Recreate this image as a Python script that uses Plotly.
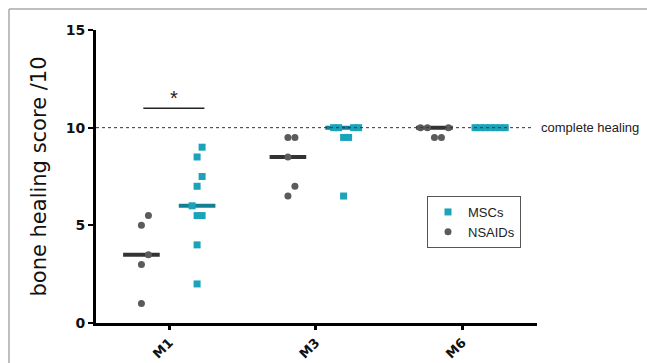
import numpy as np
import plotly.graph_objects as go

# ---- data ----
timepoints = ["M1", "M3", "M6"]
nsaids = {
    "M1": [5.5, 5.0, 3.5, 3.0, 1.0],
    "M3": [9.5, 9.5, 8.5, 7.0, 6.5],
    "M6": [10, 10, 10, 9.5, 9.5],
}
mscs = {
    "M1": [9.0, 8.5, 7.5, 7.0, 6.0, 5.5, 5.5, 4.0, 2.0],
    "M3": [10, 10, 10, 10, 9.5, 9.5, 6.5],
    "M6": [10, 10, 10, 10, 10, 10, 10],
}
complete_healing = 10
sig_level = 11
y_ticks = [0, 5, 10, 15]

# ---- layout geometry (pixels) ----
W, H = 647, 363
L, R, T, B = 96, 110, 30, 40
plot_w, plot_h = W - L - R, H - T - B
x_range = [-0.5, 2.51]
y_range = [0, 15]
px_per_x = plot_w / (x_range[1] - x_range[0])
px_per_y = plot_h / (y_range[1] - y_range[0])

TEAL = "#1ba3ba"
TEAL_DARK = "#147f94"
GRAY = "#5b5b5b"
DARK = "#333333"
FONT = "Liberation Sans, Arial, sans-serif"
WIDE = "DejaVu Sans, sans-serif"


def swarm(values, step_px, ythr_px=10):
    """Greedy beeswarm: returns x offsets (in data units) for each value."""
    order = np.argsort(values, kind="stable")
    placed = []
    offs = [0.0] * len(values)
    for i in order:
        ypx = values[i] * px_per_y
        k = 0
        while True:
            cand = 0 if k == 0 else ((k + 1) // 2) * step_px * (1 if k % 2 else -1)
            ok = all(not (abs(ypx - py) < ythr_px and abs(cand - px) < step_px - 1e-6)
                     for px, py in placed)
            if ok:
                break
            k += 1
        placed.append((cand, ypx))
        offs[i] = cand / px_per_x
    return offs


group_shift = 0.19
half_med = 0.125

fig = go.Figure()


def add_group(data, shift, color, med_color, symbol, name, step_px):
    xs, ys, mx, my = [], [], [], []
    for ci, tp in enumerate(timepoints):
        vals = data[tp]
        offs = swarm(vals, step_px)
        c = ci + shift
        xs += [c + o for o in offs]
        ys += list(vals)
        m = float(np.median(vals))
        mx += [c - half_med, c + half_med, None]
        my += [m, m, None]
    fig.add_trace(go.Scatter(x=mx, y=my, mode="lines", showlegend=False,
                             line=dict(color=med_color, width=4), hoverinfo="skip"))
    return go.Scatter(x=xs, y=ys, mode="markers", name=name,
                      marker=dict(symbol=symbol, size=7, color=color, line=dict(width=0)))


msc_tr = add_group(mscs, group_shift, TEAL, TEAL_DARK, "square", "MSCs", 5)
nsa_tr = add_group(nsaids, -group_shift, GRAY, DARK, "circle", "NSAIDs", 7)
fig.add_trace(msc_tr)
fig.add_trace(nsa_tr)

# complete healing dotted line
fig.add_shape(type="line", xref="x", yref="y", x0=x_range[0], x1=2.478,
              y0=complete_healing, y1=complete_healing,
              line=dict(color="#333333", width=1, dash="dot"), layer="above")
fig.add_annotation(xref="paper", yref="y", x=(539 - L) / plot_w, y=complete_healing,
                   text="complete healing", showarrow=False, xanchor="left",
                   font=dict(family=FONT, size=13, color="#222"))

# significance bar
fig.add_shape(type="line", xref="x", yref="y", x0=-0.177, x1=0.24,
              y0=sig_level, y1=sig_level, line=dict(color="#222", width=1.5))
fig.add_annotation(xref="x", yref="y", x=0.035, y=sig_level, text="*",
                   showarrow=False, yanchor="bottom", yshift=-3,
                   font=dict(family=FONT, size=20, color="#222"))

# outer border (top and left) at x=9, y=9
bx = (9 - L) / plot_w
by = (H - B - 9) / plot_h
fig.add_shape(type="line", xref="paper", yref="paper",
              x0=bx, x1=(W - L) / plot_w, y0=by, y1=by,
              line=dict(color="#aaaaaa", width=1.5))
fig.add_shape(type="line", xref="paper", yref="paper",
              x0=bx, x1=bx, y0=by, y1=-B / plot_h,
              line=dict(color="#aaaaaa", width=1.5))

fig.update_layout(
    width=W, height=H,
    margin=dict(l=L, r=R, t=T, b=B, autoexpand=False),
    paper_bgcolor="white", plot_bgcolor="white",
    font=dict(family=FONT, color="#111"),
    xaxis=dict(range=x_range, tickvals=[0, 1, 2], ticktext=timepoints,
               tickangle=-45, showline=True, linecolor="black", linewidth=3,
               ticks="outside", ticklen=4, tickwidth=3, tickcolor="black",
               showgrid=False, zeroline=False, automargin=False,
               tickfont=dict(family=WIDE, size=13, color="#111", weight="bold")),
    yaxis=dict(range=y_range, tickvals=y_ticks, showline=True, linecolor="black",
               linewidth=3, ticks="outside", ticklen=5, tickwidth=2, tickcolor="black",
               showgrid=False, zeroline=False, automargin=False,
               tickfont=dict(family=WIDE, size=14, color="#111", weight="bold"),
               title=dict(text="bone healing score /10", standoff=14,
                          font=dict(family=WIDE, size=21, color="#111"))),
    legend=dict(x=(427 - L) / plot_w, y=(H - B - 196) / plot_h, xanchor="left", yanchor="top",
                bordercolor="#555", borderwidth=1, bgcolor="white",
                font=dict(family=FONT, size=13, color="#222"), tracegroupgap=4),
    showlegend=True,
)

fig.write_html("out.html", config={"displayModeBar": False},
               post_script="document.body.style.margin='0';document.body.style.overflow='hidden';")
